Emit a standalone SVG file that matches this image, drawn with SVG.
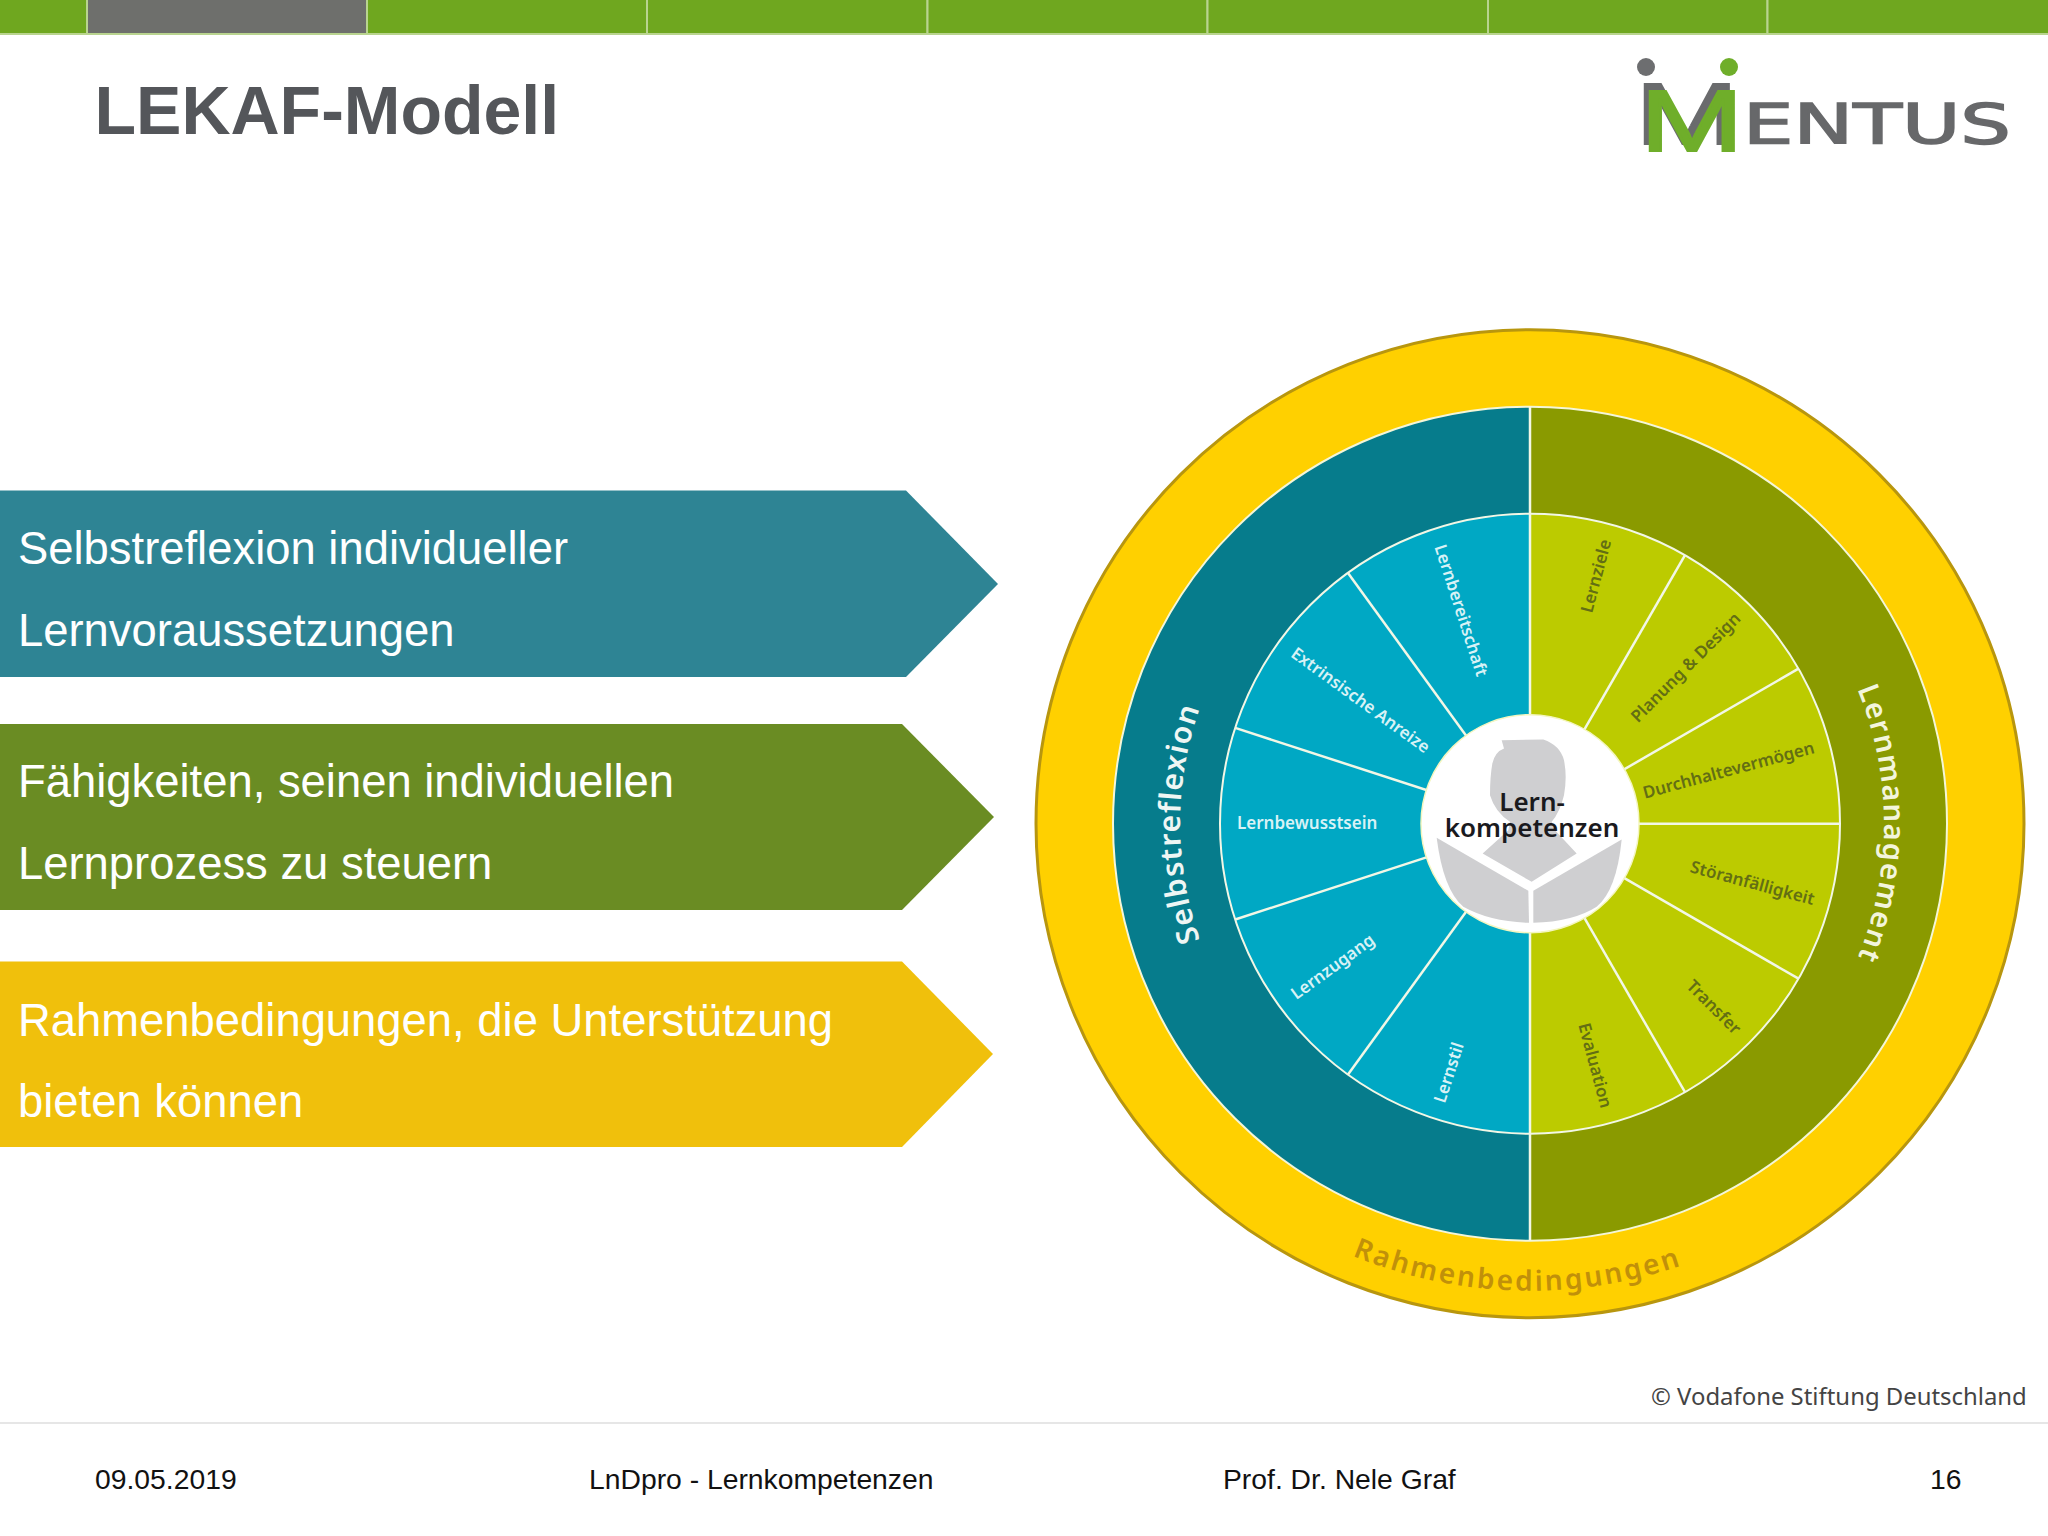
<svg xmlns="http://www.w3.org/2000/svg" xmlns:xlink="http://www.w3.org/1999/xlink" width="2048" height="1536" viewBox="0 0 2048 1536">
<style>
text{font-family:"Liberation Sans",Arial,sans-serif}
.bar{fill:#6fa71f;stroke:#b9d48f;stroke-width:2}
.arrow-t{fill:#fff;font-size:45.4px}
.foot{fill:#111;font-size:28.3px}
.wheel{font-family:"Noto Sans","Open Sans",sans-serif;font-size:17px;font-weight:600}
.lw{fill:#d8f2f6}
.dk{fill:#636e14}
.spoke{stroke:#f2f7e6;stroke-width:2.5;fill:none}
.ring{font-family:"Noto Sans","Open Sans",sans-serif;font-weight:600}
.noto{font-family:"Noto Sans","Open Sans",sans-serif}
.dejavu{font-family:"DejaVu Sans",sans-serif}
</style>
<defs>
<path id="pS" d="M1529 1172.500A350 350 0 0 1 1529 472.500"/>
<path id="pL" d="M1529 468.500A354 354 0 0 1 1529 1176.500"/>
<path id="pR" d="M1062 822.500A467 467 0 0 0 1996 822.500"/>
<text id="logoM" x="1640" y="151" font-size="87" stroke-width="2" transform="translate(1640 151) scale(1.43 1) translate(-1640 -151)">M</text>
</defs>
<rect width="2048" height="1536" fill="#fff"/>
<g id="topbar">
<rect class="bar" x="-2" y="-2" width="89" height="36"/>
<rect class="bar" x="87" y="-2" width="280" height="36" style="fill:#6e6f6c"/>
<rect class="bar" x="367" y="-2" width="280" height="36"/>
<rect class="bar" x="647" y="-2" width="280.500" height="36"/>
<rect class="bar" x="927.500" y="-2" width="280" height="36"/>
<rect class="bar" x="1207.500" y="-2" width="280.500" height="36"/>
<rect class="bar" x="1488" y="-2" width="279.500" height="36"/>
<rect class="bar" x="1767.500" y="-2" width="283" height="36"/>
</g>
<text id="title" x="94.500" y="134" font-size="68" font-weight="700" fill="#54565a">LEKAF-Modell</text>
<g id="logo">
<circle cx="1646" cy="67" r="9" fill="#6d6e70"/>
<circle cx="1729" cy="67" r="9" fill="#6fae2a"/>
<use href="#logoM" xlink:href="#logoM" x="-5" y="-7" fill="#6a6b6d" stroke="#6a6b6d"/>
<use href="#logoM" xlink:href="#logoM" fill="#6fae2a" stroke="#6fae2a"/>
<text class="dejavu" x="1743" y="143" font-size="55" fill="#67686a" textLength="268" lengthAdjust="spacingAndGlyphs" stroke="#67686a" stroke-width="1.500">ENTUS</text>
</g>
<g id="arrow1">
<polygon points="0,490.500 906,490.500 998,584 906,677 0,677" fill="#2e8494"/>
<text class="arrow-t" x="18" y="564">Selbstreflexion individueller</text>
<text class="arrow-t" x="18" y="646">Lernvoraussetzungen</text>
</g>
<g id="arrow2">
<polygon points="0,724 902,724 994,817 902,910 0,910" fill="#6a8c23"/>
<text class="arrow-t" x="18" y="797">Fähigkeiten, seinen individuellen</text>
<text class="arrow-t" x="18" y="879">Lernprozess zu steuern</text>
</g>
<g id="arrow3">
<polygon points="0,961.500 902,961.500 993,1054 902,1147 0,1147" fill="#f0c00c"/>
<text class="arrow-t" x="18" y="1035.500">Rahmenbedingungen, die Unterstützung</text>
<text class="arrow-t" x="18" y="1116.500">bieten können</text>
</g>
<g transform="translate(1 1.200)">
<g id="wheel">
<circle cx="1529" cy="822.500" r="494" fill="#ffd000" stroke="#b8960e" stroke-width="3"/>
<path d="M1529 405.500A417 417 0 0 0 1529 1239.500Z" fill="#067c8c"/>
<path d="M1529 405.500A417 417 0 0 1 1529 1239.500Z" fill="#8a9a00"/>
<circle cx="1529" cy="822.500" r="417" fill="none" stroke="#f4f6d8" stroke-width="2"/>
<path d="M1529 512.500A310 310 0 0 0 1529 1132.500Z" fill="#00a8c4"/>
<path d="M1529 512.500A310 310 0 0 1 1529 1132.500Z" fill="#bccb00"/>
<circle cx="1529" cy="822.500" r="310" fill="none" stroke="#f2f7e6" stroke-width="2"/>
<g id="spokes">
<line class="spoke" x1="1529" y1="405.500" x2="1529" y2="1239.500"/>
<line class="spoke" x1="1529" y1="822.500" x2="1839" y2="822.500"/>
<line class="spoke" x1="1529" y1="822.500" x2="1684" y2="554"/>
<line class="spoke" x1="1529" y1="822.500" x2="1797.500" y2="667.500"/>
<line class="spoke" x1="1529" y1="822.500" x2="1797.500" y2="977.500"/>
<line class="spoke" x1="1529" y1="822.500" x2="1684" y2="1091"/>
<line class="spoke" x1="1529" y1="822.500" x2="1347" y2="571.700"/>
<line class="spoke" x1="1529" y1="822.500" x2="1234.200" y2="726.700"/>
<line class="spoke" x1="1529" y1="822.500" x2="1234.200" y2="918.300"/>
<line class="spoke" x1="1529" y1="822.500" x2="1347" y2="1073.300"/>
</g>
<g id="labels-left">
<text class="wheel lw" x="1236" y="828">Lernbewusstsein</text>
<text class="wheel lw" x="1236" y="828" transform="rotate(36 1529 822.500)">Extrinsische Anreize</text>
<text class="wheel lw" x="1236" y="828" transform="rotate(72 1529 822.500)">Lernbereitschaft</text>
<text class="wheel lw" x="1236" y="828" transform="rotate(-36 1529 822.500)">Lernzugang</text>
<text class="wheel lw" x="1236" y="828" transform="rotate(-72 1529 822.500)">Lernstil</text>
</g>
<g id="labels-right" text-anchor="end">
<text class="wheel dk" x="1823" y="828" transform="rotate(-75 1529 822.500)">Lernziele</text>
<text class="wheel dk" x="1823" y="828" transform="rotate(-45 1529 822.500)">Planung &amp; Design</text>
<text class="wheel dk" x="1823" y="828" transform="rotate(-15 1529 822.500)">Durchhaltevermögen</text>
<text class="wheel dk" x="1823" y="828" transform="rotate(15 1529 822.500)">Störanfälligkeit</text>
<text class="wheel dk" x="1823" y="828" transform="rotate(45 1529 822.500)">Transfer</text>
<text class="wheel dk" x="1823" y="828" transform="rotate(75 1529 822.500)">Evaluation</text>
</g>
<text class="ring" font-size="30" fill="#eef6f4" letter-spacing="1.300" text-anchor="middle"><textPath href="#pS" xlink:href="#pS" startOffset="50%">Selbstreflexion</textPath></text>
<text class="ring" font-size="29" fill="#f3f5dc" letter-spacing="1.600" text-anchor="middle"><textPath href="#pL" xlink:href="#pL" startOffset="50%">Lernmanagement</textPath></text>
<text class="ring" font-size="28" fill="#c1900a" letter-spacing="2.500" text-anchor="middle"><textPath href="#pR" xlink:href="#pR" startOffset="49.100%">Rahmenbedingungen</textPath></text>
</g>
<g id="hub">
<circle cx="1529" cy="822.500" r="109" fill="#fff" stroke="#f4f6c0" stroke-width="1.500"/>
<g transform="translate(1399 679) scale(.33333)" fill="#cfcfd1">
<path d="M305 180L430 178Q480 195 492 240Q502 290 492 345Q480 395 455 425L465 450L530 520L395 605L248 520L325 450L330 425Q285 395 270 345Q270 290 277 250Q285 215 312 205Z"/>
<path d="M110 473L385 632L387 728Q270 725 190 680Q130 630 110 473Z"/>
<path d="M665 478L400 632L400 728Q520 725 590 680Q650 630 665 478Z"/>
</g>
<text class="noto" x="1531" y="810" text-anchor="middle" font-size="26" font-weight="600" fill="#1a1a1e">Lern-</text>
<text class="noto" x="1531" y="836" text-anchor="middle" font-size="26" font-weight="600" fill="#1a1a1e">kompetenzen</text>
</g>
</g>
<text id="credit" class="noto" x="1651" y="1405" font-size="23.900" fill="#444">© Vodafone Stiftung Deutschland</text>
<line id="rule" x1="0" y1="1423" x2="2048" y2="1423" stroke="#e6e6e6" stroke-width="2"/>
<g id="footer">
<text class="foot" x="95" y="1488.500">09.05.2019</text>
<text class="foot" x="589" y="1488.500">LnDpro - Lernkompetenzen</text>
<text class="foot" x="1223" y="1488.500">Prof. Dr. Nele Graf</text>
<text class="foot" x="1930" y="1488.500">16</text>
</g>
</svg>
